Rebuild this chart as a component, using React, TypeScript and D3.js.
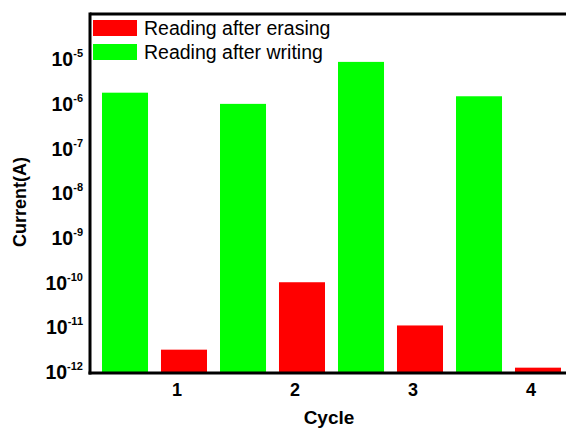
import React from "react";
import * as d3 from "d3";

const cycles = [1, 2, 3, 4];
const series = ["Reading after writing", "Reading after erasing"];
const writingValues = [1.78e-6, 1.0e-6, 8.7e-6, 1.48e-6];
const erasingValues = [3.16e-12, 1.02e-10, 1.1e-11, 1.25e-12];
const yTickExponents = [-12, -11, -10, -9, -8, -7, -6, -5];
const legendItems = ["Reading after erasing", "Reading after writing"];
const colors: Record<string, string> = {
  "Reading after writing": "#00ff00",
  "Reading after erasing": "#ff0000",
};

const W = 566;
const H = 429;
const plotLeft = 90;
const plotTop = 14;
const plotBottom = 372;
const plotRight = 572;

export default function App() {
  const y = d3.scaleLog().domain([1e-12, 1e-4]).range([plotBottom, plotTop + 0.5]);
  const x = d3.scaleLinear().domain([1, 4]).range([177, 531]);
  const inner = d3.scaleBand<string>().domain(series).range([-75, 30]).paddingInner(0.22).paddingOuter(0);

  const rows = cycles.map((c, i) => ({
    cycle: c,
    vals: [
      { s: series[0], v: writingValues[i] },
      { s: series[1], v: erasingValues[i] },
    ],
  }));

  const font = "Arial, 'Liberation Sans', sans-serif";

  return (
    <svg width={W} height={H} style={{ position: "absolute", left: 0, top: 0 }} fontFamily={font}>
      <rect x={0} y={0} width={W} height={H} fill="#fff" />
      {rows.map((r) =>
        r.vals.map((d) => (
          <rect
            key={r.cycle + d.s}
            x={x(r.cycle) + (inner(d.s) as number)}
            y={y(d.v)}
            width={inner.bandwidth()}
            height={plotBottom - y(d.v)}
            fill={colors[d.s]}
          />
        ))
      )}
      {/* frame */}
      <line x1={plotLeft} x2={plotRight} y1={plotTop} y2={plotTop} stroke="#000" strokeWidth={3} />
      <line x1={plotLeft} x2={plotLeft} y1={plotTop - 1.5} y2={plotBottom + 2.5} stroke="#000" strokeWidth={3} />
      <line x1={plotLeft - 1.5} x2={plotRight} y1={plotBottom + 1} y2={plotBottom + 1} stroke="#000" strokeWidth={3} />

      {/* y tick labels */}
      {yTickExponents.map((e) => (
        <text key={e} x={83} y={y(Math.pow(10, e)) + 7} textAnchor="end" fontWeight="bold" fontSize={19.5} fill="#000">
          10
          <tspan fontSize={11} dy={-9}>{"-" + Math.abs(e)}</tspan>
        </text>
      ))}

      {/* x tick labels */}
      {cycles.map((c) => (
        <text key={c} x={x(c)} y={396} textAnchor="middle" fontWeight="bold" fontSize={18} fill="#000">
          {c}
        </text>
      ))}

      {/* axis titles */}
      <text x={329} y={424} textAnchor="middle" fontWeight="bold" fontSize={19} fill="#000">
        Cycle
      </text>
      <text transform="translate(26,202) rotate(-90)" textAnchor="middle" fontWeight="bold" fontSize={18} fill="#000">
        Current(A)
      </text>

      {/* legend */}
      {legendItems.map((s, i) => (
        <g key={s} transform={`translate(93,${20 + i * 24})`}>
          <rect x={0} y={0} width={44} height={16} fill={colors[s]} />
          <text x={51} y={15} fontSize={19.5} fill="#000">
            {s}
          </text>
        </g>
      ))}
    </svg>
  );
}
